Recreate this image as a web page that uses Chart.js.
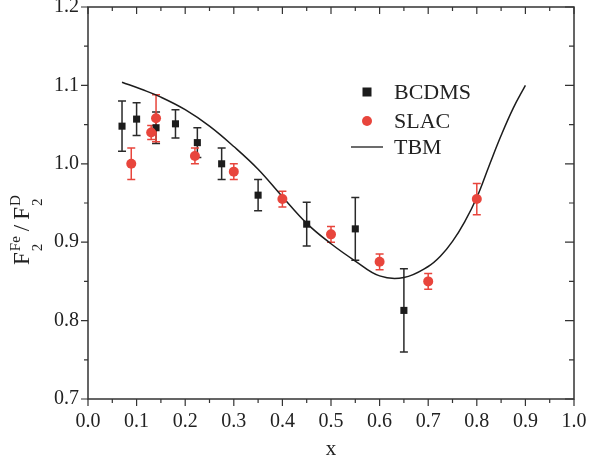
<!DOCTYPE html>
<html>
<head>
<meta charset="utf-8">
<script src="https://cdn.jsdelivr.net/npm/chart.js@4.4.0/dist/chart.umd.min.js"></script>
<style>
  html, body { margin: 0; padding: 0; background: #fff; }
  #wrap { width: 589px; height: 469px; }
</style>
</head>
<body>
<div id="wrap"><canvas id="chart" width="589" height="469"></canvas></div>
<script>
// BCDMS data
const bcdmsX = [0.07, 0.10, 0.14, 0.18, 0.225, 0.275, 0.35, 0.45, 0.55, 0.65];
const bcdmsY = [1.048, 1.057, 1.046, 1.051, 1.027, 1.000, 0.960, 0.923, 0.917, 0.813];
const bcdmsErr = [0.032, 0.021, 0.020, 0.018, 0.019, 0.020, 0.020, 0.028, 0.040, 0.053];

// SLAC data
const slacX = [0.089, 0.13, 0.14, 0.22, 0.30, 0.40, 0.50, 0.60, 0.70, 0.80];
const slacY = [1.000, 1.040, 1.058, 1.010, 0.990, 0.955, 0.910, 0.875, 0.850, 0.955];
const slacErr = [0.020, 0.009, 0.030, 0.010, 0.010, 0.010, 0.010, 0.010, 0.010, 0.020];

// TBM curve
const tbmX = [0.07, 0.11, 0.15, 0.20, 0.25, 0.30, 0.35, 0.40, 0.45, 0.50, 0.55, 0.60, 0.65, 0.70, 0.725, 0.75, 0.775, 0.80, 0.825, 0.85, 0.875, 0.90];
const tbmY = [1.104, 1.095, 1.085, 1.069, 1.048, 1.022, 0.993, 0.958, 0.924, 0.898, 0.876, 0.857, 0.855, 0.869, 0.882, 0.901, 0.926, 0.957, 0.997, 1.036, 1.071, 1.100];

const legendLabels = ['BCDMS', 'SLAC', 'TBM'];

const BLACK = '#1c1c1c';
const RED = '#e8453c';
const SERIF = "'Liberation Serif', 'Times New Roman', serif";

function pts(xs, ys) {
    return xs.map((x, i) => ({ x: x, y: ys[i] }));
}

// error bars, drawn under the markers
const errorBars = {
    id: 'errorBars',
    beforeDatasetsDraw(chart) {
        const ctx = chart.ctx;
        const xs = chart.scales.x, ys = chart.scales.y;
        chart.data.datasets.forEach(ds => {
            if (!ds.errors) return;
            ctx.save();
            ctx.strokeStyle = ds.errorColor;
            ctx.lineWidth = 1.5;
            ds.data.forEach((p, i) => {
                const px = xs.getPixelForValue(p.x);
                const top = ys.getPixelForValue(p.y + ds.errors[i]);
                const bot = ys.getPixelForValue(p.y - ds.errors[i]);
                ctx.beginPath();
                ctx.moveTo(px, top); ctx.lineTo(px, bot);
                ctx.moveTo(px - 4, top); ctx.lineTo(px + 4, top);
                ctx.moveTo(px - 4, bot); ctx.lineTo(px + 4, bot);
                ctx.stroke();
            });
            ctx.restore();
        });
    }
};

// frame and tick marks (outward on left/bottom, inward on top/right)
const frame = {
    id: 'frame',
    afterDraw(chart) {
        const ctx = chart.ctx;
        const a = chart.chartArea;
        const xs = chart.scales.x, ys = chart.scales.y;
        ctx.save();
        ctx.strokeStyle = '#333';
        ctx.lineWidth = 1.5;
        ctx.strokeRect(a.left, a.top, a.right - a.left, a.bottom - a.top);
        ctx.lineWidth = 1.2;
        ctx.beginPath();
        const xt = xs.ticks.map(t => t.value);
        for (let i = 0; i < xt.length; i++) {
            const px = xs.getPixelForValue(xt[i]);
            ctx.moveTo(px, a.bottom); ctx.lineTo(px, a.bottom + 7);
            ctx.moveTo(px, a.top); ctx.lineTo(px, a.top + 7);
            if (i < xt.length - 1) {
                const pm = xs.getPixelForValue((xt[i] + xt[i + 1]) / 2);
                ctx.moveTo(pm, a.bottom); ctx.lineTo(pm, a.bottom + 4);
                ctx.moveTo(pm, a.top); ctx.lineTo(pm, a.top + 4);
            }
        }
        const yt = ys.ticks.map(t => t.value);
        for (let i = 0; i < yt.length; i++) {
            const py = ys.getPixelForValue(yt[i]);
            ctx.moveTo(a.left, py); ctx.lineTo(a.left - 7, py);
            ctx.moveTo(a.right, py); ctx.lineTo(a.right - 9, py);
            if (i < yt.length - 1) {
                const pm = ys.getPixelForValue((yt[i] + yt[i + 1]) / 2);
                ctx.moveTo(a.left, pm); ctx.lineTo(a.left - 4, pm);
                ctx.moveTo(a.right, pm); ctx.lineTo(a.right - 5, pm);
            }
        }
        ctx.stroke();

        // x axis title
        ctx.fillStyle = '#222';
        ctx.font = '21px ' + SERIF;
        ctx.textAlign = 'center';
        ctx.textBaseline = 'alphabetic';
        ctx.fillText('x', (a.left + a.right) / 2, 455);

        // y axis title  F2^Fe / F2^D, rotated
        ctx.translate(29, 265);
        ctx.rotate(-Math.PI / 2);
        ctx.textAlign = 'left';
        const big = '23px ' + SERIF, small = '15px ' + SERIF;
        let x = 0;
        function piece(mainTxt, sup) {
            ctx.font = big;
            ctx.fillText(mainTxt, x, 0);
            x += ctx.measureText(mainTxt).width + 1;
            ctx.font = small;
            ctx.fillText('2', x, 13);
            ctx.fillText(sup, x, -9);
            x += Math.max(ctx.measureText('2').width, ctx.measureText(sup).width);
        }
        piece('F', 'Fe');
        ctx.font = big;
        x += 5;
        ctx.fillText('/', x, 0);
        x += ctx.measureText('/').width + 5;
        piece('F', 'D');
        ctx.restore();
    }
};

// legend in upper right of the plot
const legendBox = {
    id: 'legendBox',
    afterDatasetsDraw(chart) {
        const ctx = chart.ctx;
        const mx = 367, tx = 394;
        const rows = [92, 121, 147];
        ctx.save();
        ctx.font = '22px ' + SERIF;
        ctx.fillStyle = '#222';
        ctx.textBaseline = 'middle';
        legendLabels.forEach((lab, i) => ctx.fillText(lab, tx, rows[i] + 1));
        ctx.fillStyle = BLACK;
        ctx.fillRect(mx - 4.5, rows[0] - 4.5, 9, 9);
        ctx.fillStyle = RED;
        ctx.beginPath();
        ctx.arc(mx, rows[1], 5, 0, Math.PI * 2);
        ctx.fill();
        ctx.strokeStyle = BLACK;
        ctx.lineWidth = 1.3;
        ctx.beginPath();
        ctx.moveTo(351, rows[2]); ctx.lineTo(383, rows[2]);
        ctx.stroke();
        ctx.restore();
    }
};

const chart = new Chart(document.getElementById('chart').getContext('2d'), {
    type: 'scatter',
    data: {
        datasets: [
            {
                label: legendLabels[2],
                data: pts(tbmX, tbmY),
                showLine: true,
                borderColor: BLACK,
                borderWidth: 1.5,
                pointRadius: 0,
                tension: 0.4,
                order: 3
            },
            {
                label: legendLabels[0],
                data: pts(bcdmsX, bcdmsY),
                errors: bcdmsErr,
                errorColor: '#2a2a2a',
                pointStyle: 'rect',
                pointRadius: 5,
                backgroundColor: BLACK,
                borderWidth: 0,
                order: 2
            },
            {
                label: legendLabels[1],
                data: pts(slacX, slacY),
                errors: slacErr,
                errorColor: RED,
                pointStyle: 'circle',
                pointRadius: 5,
                backgroundColor: RED,
                borderWidth: 0,
                order: 1
            }
        ]
    },
    options: {
        responsive: false,
        animation: false,
        layout: { padding: { left: 0, top: 7, right: 15, bottom: 0 } },
        plugins: {
            legend: { display: false },
            tooltip: { enabled: false }
        },
        scales: {
            x: {
                min: 0, max: 1,
                grid: { display: false, drawTicks: false },
                border: { display: false },
                ticks: {
                    stepSize: 0.1,
                    padding: 11,
                    color: '#222',
                    font: { family: SERIF, size: 20 },
                    callback: v => v.toFixed(1),
                    maxRotation: 0
                },
                afterFit: s => { s.height = 70; s.paddingLeft = 0; s.paddingRight = 0; }
            },
            y: {
                min: 0.7, max: 1.2,
                grid: { display: false, drawTicks: false },
                border: { display: false },
                ticks: {
                    stepSize: 0.1,
                    padding: 9,
                    color: '#222',
                    font: { family: SERIF, size: 20 },
                    callback: v => v.toFixed(1)
                },
                afterFit: s => { s.width = 88; s.paddingTop = 0; s.paddingBottom = 0; }
            }
        }
    },
    plugins: [errorBars, legendBox, frame]
});
</script>
</body>
</html>
